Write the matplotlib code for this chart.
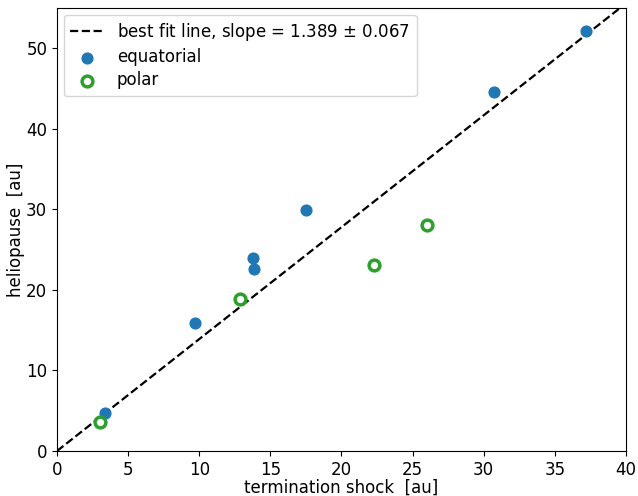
import numpy as np
import matplotlib.pyplot as plt

eq_ts = [3.4, 9.7, 13.75, 13.85, 17.5, 30.7, 37.2]
eq_hp = [4.7, 15.9, 23.9, 22.6, 29.9, 44.6, 52.1]
pol_ts = [3.05, 12.9, 22.3, 26.0]
pol_hp = [3.6, 18.9, 23.1, 28.0]
slope = 1.389
slope_err = 0.067

plt.rcParams['font.size'] = 12
fig, ax = plt.subplots(figsize=(6.38, 4.96), dpi=100)

xs = np.array([0, 40])
ax.plot(xs, slope * xs, 'k--', lw=1.6,
        label=f'best fit line, slope = {slope:.3f} $\\pm$ {slope_err:.3f}')
ax.scatter(eq_ts, eq_hp, s=60, color='tab:blue', label='equatorial', zorder=3)
ax.scatter(pol_ts, pol_hp, s=60, facecolors='white', edgecolors='tab:green',
           linewidths=2.5, label='polar', zorder=3)

ax.set_xlim(0, 40)
ax.set_ylim(0, 55)
ax.set_xlabel('termination shock  [au]', labelpad=0)
ax.set_ylabel('heliopause  [au]', labelpad=1)
ax.legend(loc='upper left', labelspacing=0.3, borderaxespad=0.4)

fig.subplots_adjust(left=0.0893, right=0.981, top=0.984, bottom=0.0907)
fig.savefig('out.png')
